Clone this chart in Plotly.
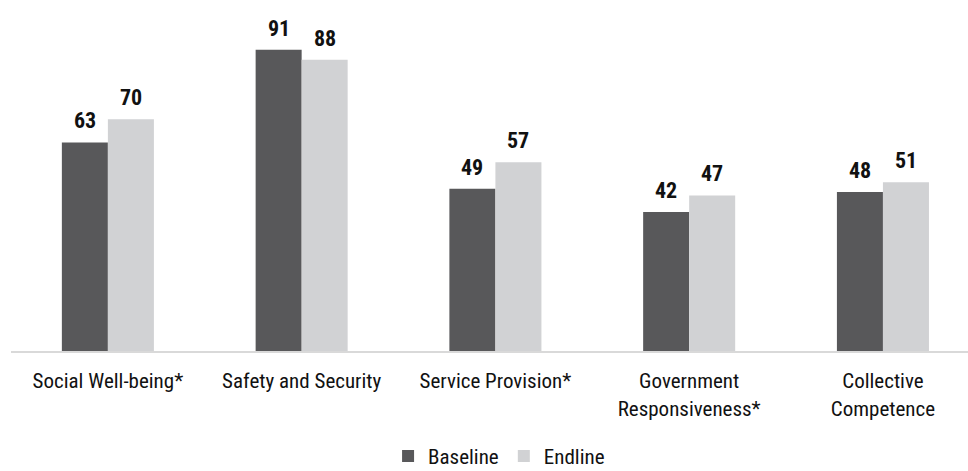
import plotly.graph_objects as go

categories = [
    "Social Well-being*",
    "Safety and Security",
    "Service Provision*",
    "Government<br>Responsiveness*",
    "Collective<br>Competence",
]
baseline = [63, 91, 49, 42, 48]
endline = [70, 88, 57, 47, 51]

FONT = "Roboto Condensed, Arial Narrow, Arial, sans-serif"
DARK = "#58585a"
LIGHT = "#d1d2d4"

fig = go.Figure()
fig.add_trace(go.Bar(name="Baseline", x=categories, y=baseline,
                     marker=dict(color=DARK, line=dict(width=0))))
fig.add_trace(go.Bar(name="Endline", x=categories, y=endline,
                     marker=dict(color=LIGHT, line=dict(width=0))))

# value labels above each bar, offset half a bar width to either side
half_bar = 23
for cat, b, e in zip(categories, baseline, endline):
    for val, dx in ((b, -half_bar), (e, half_bar)):
        fig.add_annotation(x=cat, y=val, text=f"<b>{val}</b>", showarrow=False,
                           xanchor="center", yanchor="bottom", xshift=dx, yshift=7,
                           font=dict(family=FONT, size=22, color="#111111"))

fig.update_layout(
    width=968, height=471,
    margin=dict(l=11, r=0, t=20, b=120, autoexpand=False),
    paper_bgcolor="white", plot_bgcolor="white",
    barmode="group", bargap=0.525, bargroupgap=0,
    font=dict(family=FONT, size=21, color="#111111"),
    showlegend=True,
    legend=dict(orientation="h", x=0.51, xanchor="center", y=-0.318, yanchor="middle",
                font=dict(family=FONT, size=21, color="#111111")),
    xaxis=dict(range=[-0.5, 4.439], showline=True, linecolor="#d9d9d9", linewidth=2,
               ticks="", showgrid=False, ticklabelstandoff=10, automargin=False,
               tickfont=dict(family=FONT, size=21)),
    yaxis=dict(range=[0, 100], visible=False, showgrid=False, zeroline=False,
               automargin=False),
)

fig.write_html("out.html")
